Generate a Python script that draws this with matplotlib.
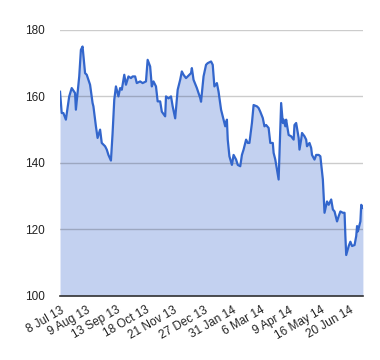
import matplotlib
matplotlib.use('Agg')
import matplotlib.pyplot as plt
import pandas as pd

# price series
dates = ['2013-07-08', '2013-07-09', '2013-07-10', '2013-07-12', '2013-07-15', '2013-07-19',
         '2013-07-22', '2013-07-26', '2013-07-27', '2013-07-31', '2013-08-02', '2013-08-04',
         '2013-08-07', '2013-08-09', '2013-08-13', '2013-08-16', '2013-08-17', '2013-08-20',
         '2013-08-22', '2013-08-25', '2013-08-27', '2013-08-31', '2013-09-02', '2013-09-04',
         '2013-09-07', '2013-09-09', '2013-09-11', '2013-09-13', '2013-09-16', '2013-09-18',
         '2013-09-20', '2013-09-23', '2013-09-25', '2013-09-28', '2013-10-01', '2013-10-03',
         '2013-10-06', '2013-10-08', '2013-10-12', '2013-10-15', '2013-10-19', '2013-10-21',
         '2013-10-24', '2013-10-26', '2013-10-28', '2013-10-31', '2013-11-02', '2013-11-05',
         '2013-11-07', '2013-11-11', '2013-11-12', '2013-11-15', '2013-11-18', '2013-11-20',
         '2013-11-23', '2013-11-26', '2013-11-29', '2013-12-01', '2013-12-03', '2013-12-06',
         '2013-12-08', '2013-12-12', '2013-12-13', '2013-12-15', '2013-12-19', '2013-12-23',
         '2013-12-24', '2013-12-27', '2013-12-30', '2014-01-01', '2014-01-05', '2014-01-07',
         '2014-01-09', '2014-01-12', '2014-01-14', '2014-01-17', '2014-01-19', '2014-01-22',
         '2014-01-24', '2014-01-25', '2014-01-27', '2014-01-30', '2014-02-01', '2014-02-04',
         '2014-02-06', '2014-02-09', '2014-02-11', '2014-02-13', '2014-02-16', '2014-02-18',
         '2014-02-20', '2014-02-23', '2014-02-25', '2014-03-01', '2014-03-03', '2014-03-05',
         '2014-03-08', '2014-03-10', '2014-03-12', '2014-03-15', '2014-03-17', '2014-03-20',
         '2014-03-21', '2014-03-23', '2014-03-26', '2014-03-27', '2014-03-30', '2014-04-01',
         '2014-04-02', '2014-04-04', '2014-04-05', '2014-04-08', '2014-04-11', '2014-04-14',
         '2014-04-15', '2014-04-17', '2014-04-20', '2014-04-21', '2014-04-23', '2014-04-24',
         '2014-04-27', '2014-04-29', '2014-04-30', '2014-05-03', '2014-05-05', '2014-05-06',
         '2014-05-09', '2014-05-11', '2014-05-14', '2014-05-16', '2014-05-19', '2014-05-20',
         '2014-05-21', '2014-05-24', '2014-05-26', '2014-05-29', '2014-05-31', '2014-06-02',
         '2014-06-05', '2014-06-07', '2014-06-09', '2014-06-12', '2014-06-14', '2014-06-15',
         '2014-06-16', '2014-06-19', '2014-06-21', '2014-06-23', '2014-06-26', '2014-06-28',
         '2014-06-29', '2014-06-30', '2014-07-03', '2014-07-04', '2014-07-06']
prices = [161.4, 158, 155, 155, 153, 160,
          162.5, 161, 156, 166, 174, 175,
          167, 166.5, 163.5, 158, 157, 151,
          147.5, 150, 146, 145, 144, 142.4,
          140.7, 149, 159, 163, 160, 162.5,
          162, 166.5, 163.5, 166, 165.5, 166,
          166, 164, 164.5, 164, 164.5, 171,
          169, 163, 164.5, 163, 158.5, 158.5,
          155.4, 154, 160, 159.4, 160, 157,
          153.4, 162, 165, 167.5, 166.5, 165.5,
          166, 167, 168.5, 165, 162.5, 159.5,
          158.4, 166, 169.5, 170, 170.5, 169.5,
          163, 164, 161.4, 156, 154, 151,
          153, 147, 142, 139.4, 142.4, 141,
          139.4, 139, 142.4, 144, 147, 146,
          146, 152, 157.4, 157, 156.5, 155.4,
          153.5, 151, 151.4, 150.5, 146, 146,
          143, 141, 136.4, 135, 158, 152,
          153, 151, 153, 148.4, 148, 147,
          151.4, 152, 147.5, 144, 147, 149,
          148, 147, 145, 146, 144.5, 142.4,
          141, 142.4, 142.4, 142, 135, 130,
          125, 128.4, 127.4, 129, 126, 125.4,
          122.4, 124, 125.4, 125, 125, 118,
          112.3, 115, 116.3, 115, 115.3, 118,
          121, 119.4, 122.4, 127.4, 126.5]

tick_dates = ['2013-07-08', '2013-08-09', '2013-09-13', '2013-10-18', '2013-11-21', '2013-12-27',
              '2014-01-31', '2014-03-06', '2014-04-09', '2014-05-16', '2014-06-20']
y_ticks = [100, 120, 140, 160, 180]

x = pd.to_datetime(dates)
xt = pd.to_datetime(tick_dates)

plt.rcParams['font.family'] = ['Liberation Sans', 'DejaVu Sans']

fig = plt.figure(figsize=(3.8, 3.6), dpi=100)
ax = fig.add_axes([0.158, 0.178, 0.797, 0.739])

ax.fill_between(x, prices, 100, color='#c3d1f0', lw=0, zorder=1)
ax.plot(x, prices, color='#3366cc', lw=1.6, zorder=3)

ax.set_xlim(x[0], x[-1])
ax.set_ylim(100, 180)
ax.set_yticks(y_ticks)
ax.set_axisbelow(False)
ax.grid(axis='y', color='black', alpha=0.2, lw=1)
for s in ['top', 'right', 'left']:
    ax.spines[s].set_visible(False)
ax.spines['bottom'].set_color('#333333')
ax.spines['bottom'].set_linewidth(1.2)
ax.spines['bottom'].set_zorder(5)

ax.set_xticks(xt)
ax.set_xticklabels([d.strftime('%-d %b %y') for d in xt], rotation=30,
                   ha='right', rotation_mode='anchor')
ax.tick_params(axis='both', length=0, labelsize=8.5, labelcolor='#222222')
ax.tick_params(axis='y', pad=11)
ax.tick_params(axis='x', pad=6)

fig.savefig('out.png', dpi=100)
